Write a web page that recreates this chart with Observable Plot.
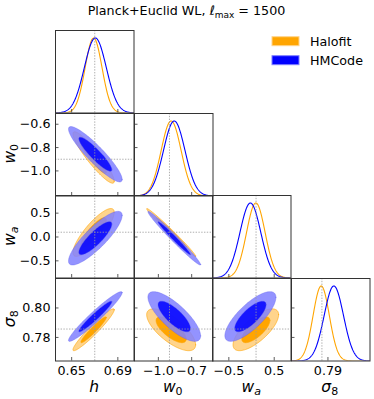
<!DOCTYPE html>
<html>
<head>
<meta charset="utf-8">
<script src="https://cdn.jsdelivr.net/npm/d3@7"></script>
<script src="https://cdn.jsdelivr.net/npm/@observablehq/plot@0.6"></script>
<style>
  html, body { margin: 0; padding: 0; background: #fff; }
  #fig { position: relative; width: 374px; height: 399px; overflow: hidden; font-family: "DejaVu Sans", sans-serif; }
</style>
</head>
<body>
<div id="fig"></div>
<script>
// ---------------- data ----------------
const paramNames = ["h", "w0", "wa", "sigma8"];
const paramRanges = [[0.636, 0.704], [-1.215, -0.508], [-0.86, 0.87], [0.764, 0.820]];
const fiducials = [0.67, -0.9, 0.1, 0.7857];
const xTickValues = [[0.65, 0.69], [-1.0, -0.7], [-0.5, 0.5], [0.79]];
const yTickValues = [[], [-1.0, -0.8, -0.6], [-0.5, 0.0, 0.5], [0.78, 0.80]];
const tickDecimals = [2, 1, 1, 2];

const seriesNames = ["Halofit", "HMCode"];
const seriesColors = ["#FFA500", "#0000FF"];
const seriesLightColors = ["#FFD48C", "#8080FF"];

const halofitMean = [0.669, -0.885, 0.095, 0.7852];
const halofitSigma = [0.0073, 0.090, 0.205, 0.0058];
const hmcodeMean = [0.6705, -0.857, -0.025, 0.7942];
const hmcodeSigma = [0.0095, 0.097, 0.230, 0.0069];

const corrPairs = [[0, 1], [0, 2], [0, 3], [1, 2], [1, 3], [2, 3]];
const halofitCorr = [-0.92, 0.84, 0.955, -0.99, -0.72, 0.72];
const hmcodeCorr = [-0.91, 0.85, 0.96, -0.985, -0.78, 0.77];

const contourLevels = [0.95, 0.68];

// ---------------- layout ----------------
const colX = [55, 133.5, 212, 290.5];
const rowY = [30, 112.5, 195, 277.5];
const W = 78.5, H = 82.5;
const FS = "12.7px";

const means = [halofitMean, hmcodeMean];
const sigmas = [halofitSigma, hmcodeSigma];
const corrs = [halofitCorr, hmcodeCorr];

function corrOf(s, a, b) {
  const k = corrPairs.findIndex(([p, q]) => (p === a && q === b) || (p === b && q === a));
  return corrs[s][k];
}
function ellipsePts(mx, my, sx, sy, rho, p) {
  const r = Math.sqrt(-2 * Math.log(1 - p));
  const q = Math.sqrt(1 - rho * rho);
  return d3.range(0, 145).map(k => {
    const t = 2 * Math.PI * k / 144, c = Math.cos(t), s = Math.sin(t);
    return {x: mx + sx * r * c, y: my + sy * r * (rho * c + q * s)};
  });
}
function gaussCurve(mu, sd, range) {
  return d3.range(0, 201).map(k => {
    const x = range[0] + (range[1] - range[0]) * k / 200;
    return {x, y: Math.exp(-0.5 * ((x - mu) / sd) ** 2)};
  });
}
const fmt = i => d3.format(`.${tickDecimals[i]}f`);

const fig = document.getElementById("fig");
const gridStyle = {stroke: "#9a9a9a", strokeWidth: 0.8, strokeDasharray: "1.4,1.4"};
const tickStyle = {stroke: "#333", strokeWidth: 0.8};

for (let i = 0; i < 4; i++) {
  for (let j = 0; j <= i; j++) {
    const mL = (j === 0 && i > 0) ? 55 : 0;
    const mB = i === 3 ? 39 : 0;
    const marks = [];
    let yDomain;
    let yTickPos = yTickValues[i];
    if (i === j) {
      yDomain = [0, 1.1];
      const toDens = d3.scaleLinear().domain(paramRanges[i]).range(yDomain);
      yTickPos = yTickValues[i].map(v => toDens(v));
      for (let s = 0; s < 2; s++) {
        marks.push(Plot.line(gaussCurve(means[s][j], sigmas[s][j], paramRanges[j]),
          {x: "x", y: "y", stroke: seriesColors[s], strokeWidth: 1.1, clip: true}));
      }
      marks.push(Plot.ruleX([fiducials[j]], gridStyle));
    } else {
      yDomain = paramRanges[i];
      for (let s = 0; s < 2; s++) {
        const rho = corrOf(s, j, i);
        const op = s === 0 ? 1 : 0.85;
        contourLevels.forEach((p, li) => {
          const pts = ellipsePts(means[s][j], means[s][i], sigmas[s][j], sigmas[s][i], rho, p);
          marks.push(Plot.line(pts, {
            x: "x", y: "y", curve: "linear-closed", clip: true,
            fill: li === 0 ? seriesLightColors[s] : seriesColors[s],
            fillOpacity: op,
            stroke: s === 0 ? seriesColors[s] : "#5a5aee",
            strokeWidth: s === 0 ? 0.6 : 0.4,
            strokeOpacity: op
          }));
        });
      }
      marks.push(Plot.ruleX([fiducials[j]], gridStyle));
      marks.push(Plot.ruleY([fiducials[i]], gridStyle));
    }
    marks.push(Plot.tickX(xTickValues[j], {x: d => d, insetTop: H - 3.5, ...tickStyle}));
    if (i > 0) marks.push(Plot.tickY(yTickPos, {y: d => d, insetRight: W - 3.5, ...tickStyle}));
    marks.push(Plot.frame({stroke: "#333", strokeWidth: 1}));

    const svg = Plot.plot({
      width: W + mL,
      height: H + mB,
      marginLeft: mL, marginRight: 0, marginTop: 0, marginBottom: mB,
      style: {fontFamily: "DejaVu Sans", fontSize: FS, background: "transparent", overflow: "visible", color: "#000"},
      x: {domain: paramRanges[j], axis: i === 3 ? "bottom" : null, ticks: xTickValues[j],
          tickSize: 0, tickPadding: 5, tickFormat: fmt(j), label: null},
      y: {domain: yDomain, axis: (j === 0 && i > 0) ? "left" : null, ticks: yTickValues[i],
          tickSize: 0, tickPadding: 5, tickFormat: fmt(i), label: null},
      marks
    });
    svg.style.position = "absolute";
    svg.style.left = (colX[j] - mL) + "px";
    svg.style.top = rowY[i] + "px";
    svg.style.maxWidth = "none";
    fig.appendChild(svg);
  }
}

// ---------------- text overlay: title, legend, axis labels ----------------
const ov = d3.select(fig).append("svg")
  .attr("width", 374).attr("height", 399)
  .style("position", "absolute").style("left", "0px").style("top", "0px")
  .style("overflow", "visible")
  .attr("font-family", "DejaVu Sans");

const title = ov.append("text").attr("x", 186.5).attr("y", 15).attr("text-anchor", "middle")
  .attr("font-size", 12.7);
title.append("tspan").text("Planck+Euclid WL, ");
title.append("tspan").attr("font-style", "italic").text("ℓ");
title.append("tspan").attr("font-size", 9).attr("dy", 2.5).text("max");
title.append("tspan").attr("dy", -2.5).text(" = 1500");

const legendY = [36.7, 55.7];
seriesNames.forEach((name, s) => {
  ov.append("rect").attr("x", 272).attr("y", legendY[s]).attr("width", 27).attr("height", 9)
    .attr("fill", seriesColors[s]).attr("stroke", seriesLightColors[s]).attr("stroke-width", 1);
  ov.append("text").attr("x", 310).attr("y", legendY[s] + 9).attr("font-size", 12.7).text(name);
});

const axisLabelParts = [["h", ""], ["w", "0"], ["w", "a"], ["σ", "8"]];
function addLabel(sel, k) {
  const [base, sub] = axisLabelParts[k];
  sel.append("tspan").attr("font-style", "italic").text(base);
  if (sub) sel.append("tspan").attr("font-size", 11).attr("dy", 3)
    .attr("font-style", sub === "a" ? "italic" : "normal").text(sub);
}
for (let j = 0; j < 4; j++) {
  const t = ov.append("text").attr("x", colX[j] + W / 2).attr("y", 391.5)
    .attr("text-anchor", "middle").attr("font-size", 15.5);
  addLabel(t, j);
}
for (let i = 1; i < 4; i++) {
  const cy = rowY[i] + H / 2;
  const t = ov.append("text").attr("transform", `translate(15,${cy}) rotate(-90)`)
    .attr("text-anchor", "middle").attr("font-size", 15.5);
  addLabel(t, i);
}
</script>
</body>
</html>
